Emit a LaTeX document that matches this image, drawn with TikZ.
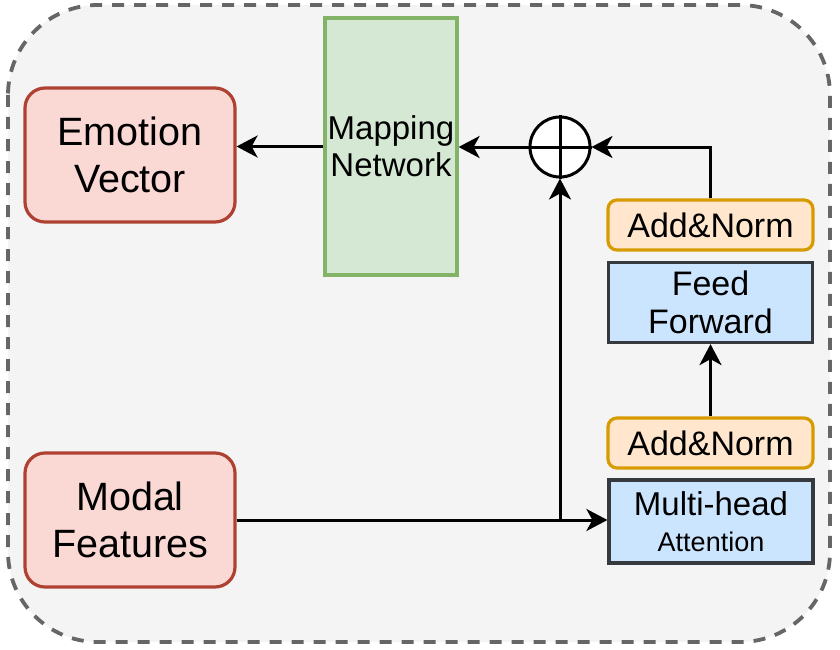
\documentclass[tikz,border=0pt]{standalone}
\usepackage{fontspec}
\setmainfont{Liberation Sans}
\usetikzlibrary{arrows.meta}
\definecolor{outerfill}{HTML}{F4F4F4}
\definecolor{outerline}{HTML}{666666}
\definecolor{redfill}{HTML}{FAD9D5}
\definecolor{redline}{HTML}{AE4132}
\definecolor{greenfill}{HTML}{D5E8D4}
\definecolor{greenline}{HTML}{82B366}
\definecolor{orangefill}{HTML}{FFE6CC}
\definecolor{orangeline}{HTML}{D79B00}
\definecolor{bluefill}{HTML}{CCE5FF}
\definecolor{blueline}{HTML}{36393D}
\tikzset{
  box/.style={draw, line width=3.2pt, inner sep=0pt, align=center, text=black},
  redbox/.style={box, fill=redfill, draw=redline, rounded corners=20pt, minimum width=210pt, minimum height=134pt, font=\fontsize{39.5}{47}\selectfont},
  greenbox/.style={box, fill=greenfill, draw=greenline, minimum width=132pt, minimum height=257pt, font=\fontsize{33}{37}\selectfont},
  normbox/.style={box, fill=orangefill, draw=orangeline, rounded corners=9pt, minimum width=205pt, minimum height=50pt, font=\fontsize{34}{38}\selectfont},
  bluebox/.style={box, fill=bluefill, draw=blueline, minimum width=204pt, minimum height=80pt},
  conn/.style={line width=3pt, -{Stealth[length=21pt 0, width=22pt 0, inset=6pt 0]}},
  plainline/.style={line width=3pt}
}
\begin{document}
\begin{tikzpicture}[x=1pt, y=-1pt]
\useasboundingbox (0,0) rectangle (840,650);
\draw[fill=outerfill, draw=outerline, line width=3.8pt, dash pattern=on 12pt off 10pt, rounded corners=90pt] (8,5) rectangle (830,642);

\node[redbox] (ev) at (130,155) {Emotion\\Vector};
\node[redbox, minimum height=134pt] (mf) at (130,520) {Modal\\Features};
\node[greenbox] (mn) at (391,146.5) {Mapping\\Network};
\node[circle, draw, fill=white, line width=3pt, minimum size=60pt, inner sep=0pt] (op) at (560,147) {};
\draw[plainline] (op.north) -- (op.south);
\draw[plainline] (op.west) -- (op.east);

\node[normbox] (an1) at (710.5,225) {Add\&Norm};
\node[bluebox, font=\fontsize{34}{38}\selectfont] (ff) at (710.5,302.5) {Feed\\Forward};
\node[normbox] (an2) at (710.5,443) {Add\&Norm};
\node[bluebox, minimum height=83pt, font=\fontsize{33}{36}\selectfont] (mha) at (711,521.5) {Multi-head\\{\fontsize{27}{36}\selectfont Attention}};

\coordinate (j) at (560,520);
\draw[conn] (mf.east) -- (mf.east -| mha.west);
\draw[conn] (j) -- (op.south);
\draw[conn] (an1.north) |- (op.east);
\draw[conn] (op.west) -- (op.west -| mn.east);
\draw[conn] (mn.west) -- (mn.west -| ev.east);
\draw[conn] (an2.north) -- (ff.south);
\end{tikzpicture}
\end{document}
